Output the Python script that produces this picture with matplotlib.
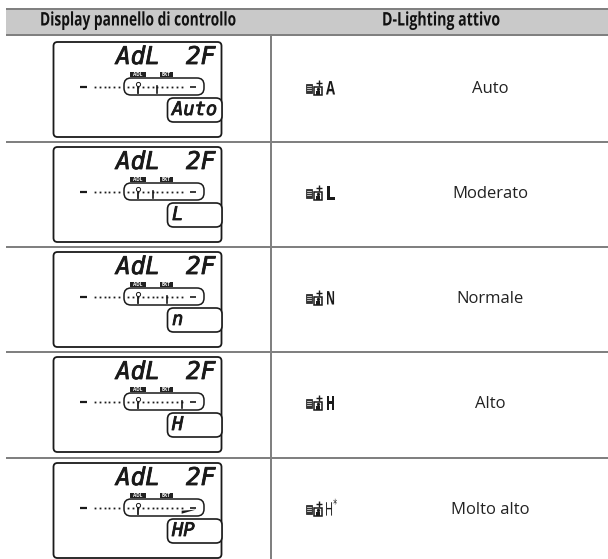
import matplotlib
matplotlib.use("Agg")
import matplotlib.pyplot as plt
from matplotlib.patches import FancyBboxPatch, Rectangle, Polygon
from matplotlib.patheffects import AbstractPathEffect, withStroke
from matplotlib.transforms import Affine2D

headers = ["Display pannello di controllo", "D-Lighting attivo"]
lcd_top = ["AdL", "2F"]
lcd_bottom = ["Auto", "L", "n", "H", "HP"]
modes = ["A", "L", "N", "H", "H$^{*}$"]
names = ["Auto", "Moderato", "Normale", "Alto", "Molto alto"]
indicator_step = [6, 5, 8, 11, 11]   # scale position of the bracketing mark
scale_outer = [0, 1, 2, 3, 4, 5]
scale_inner = list(range(12))

W, H = 608, 559
fig = plt.figure(figsize=(W / 100, H / 100), dpi=100)
ax = fig.add_axes([0, 0, 1, 1])
ax.set_xlim(0, W)
ax.set_ylim(H, 0)
ax.axis("off")
PX = 72 / 100
renderer = fig.canvas.get_renderer()

SANS = "Open Sans"
MONO = "DejaVu Sans Mono"
INK = "#1a1a1a"
RULE = "#808080"


class Squeeze(AbstractPathEffect):
    """Narrow a text horizontally about a pixel column (condensed look)."""

    def __init__(self, cx, sx):
        super().__init__()
        self.cx, self.sx = cx, sx

    def draw_path(self, renderer, gc, tpath, affine, rgbFace=None):
        squeeze = Affine2D().translate(-self.cx, 0).scale(self.sx, 1).translate(self.cx, 0)
        renderer.draw_path(gc, tpath, affine + squeeze, rgbFace)


def narrow(x, y, s, width, **kw):
    t = ax.text(x, y, s, va="center", **kw)
    w = t.get_window_extent(renderer).width
    cx = ax.transData.transform((x, y))[0]
    t.set_path_effects([Squeeze(cx, width / w)])
    return t


def lcd_text(x, y, s, size):
    t = ax.text(x, y, s, family=MONO, style="oblique", fontsize=size, ha="left", va="center", color=INK)
    t.set_path_effects([withStroke(linewidth=0.6, foreground=INK)])
    return t


# header band
ax.add_patch(Rectangle((6, 9), W - 6, 26, fc="#c9c9c9", ec="none"))
for y in (9, 35):
    ax.plot([6, W], [y, y], color=RULE, lw=2 * PX, solid_capstyle="butt")
ax.plot([271, 271], [35, H], color=RULE, lw=2 * PX, solid_capstyle="butt")
narrow(138.5, 20.5, headers[0], 197, family=SANS, weight="bold", fontsize=13.5, ha="center", color="#111111")
narrow(441, 20.5, headers[1], 118, family=SANS, weight="bold", fontsize=13.5, ha="center", color="#111111")

rule_y = [142, 247, 352, 458]
for y in rule_y:
    ax.plot([6, W], [y, y], color=RULE, lw=2 * PX, solid_capstyle="butt")

tops = [42, 147, 252, 357, 463]


def rbox(x0, y0, x1, y1, r, lw=1.1):
    ax.add_patch(FancyBboxPatch((x0 + r, y0 + r), x1 - x0 - 2 * r, y1 - y0 - 2 * r,
                                boxstyle=f"round,pad={r},rounding_size={r}",
                                fc="white", ec=INK, lw=lw))


def icon(x, yc):
    ax.add_patch(Rectangle((x, yc - 5), 6, 9, fc="#333333", ec=INK, lw=0.5))
    for dy in (-3, -1, 1):
        ax.plot([x + 1, x + 5], [yc + dy, yc + dy], color="white", lw=0.5)
    ax.add_patch(Rectangle((x + 7.5, yc - 2), 8, 8, fc="white", ec=INK, lw=1.1))
    ax.add_patch(Rectangle((x + 9.5, yc + 2), 4, 3.5, fc=INK, ec="none"))
    ax.plot([x + 11.5], [yc], marker="o", ms=2.4, mew=0, color=INK)
    ax.plot([x + 13], [yc - 6.5], marker="+", ms=4.5, mew=1, color=INK)


STEP = 4.85
for i, top in enumerate(tops):
    rbox(53.5, top, 221.5, top + 95, 4, lw=1.3)
    lcd_text(116, top + 15, lcd_top[0], 17.5)
    lcd_text(186, top + 15, lcd_top[1], 17.5)
    for tx, tw, lab in ((130, 16, "ADL"), (160, 13, "BKT")):
        ax.add_patch(Rectangle((tx, top + 29.5), tw, 5.5, fc="#222222", ec="none"))
        ax.text(tx + tw / 2, top + 32.2, lab, fontsize=3.4, color="white", ha="center", va="center",
                family=SANS, weight="bold")
    ym = top + 44.7
    ax.plot([80, 87], [ym, ym], color=INK, lw=1.6, solid_capstyle="butt")
    rbox(124, top + 36, 204, top + 53, 7, lw=1.1)
    ax.plot([190, 196], [ym, ym], color=INK, lw=1.2, solid_capstyle="butt")
    for s in scale_outer:
        ax.plot([95 + 4.8 * s], [ym], marker="s", ms=1.3, mew=0, color=INK)
    for s in scale_inner:
        ax.plot([128.3 + STEP * s], [ym], marker="s", ms=1.3, mew=0, color=INK)
    ax.plot([138, 138], [ym - 1, ym + 6], color=INK, lw=1.3)
    ax.plot([138], [ym - 3], marker="o", ms=3, mfc="white", mec=INK, mew=0.7)
    xm = 128.3 + STEP * indicator_step[i]
    if i == 4:
        ax.add_patch(Polygon([(xm, ym + 6), (xm, ym + 3), (xm + 14, ym + 2)], closed=True, fc=INK, ec="none"))
    else:
        ax.plot([xm, xm], [ym - 1, ym + 6], color=INK, lw=1.2)
    rbox(167.5, top + 56, 222, top + 80, 6, lw=1.2)
    lcd_text(172, top + 67.5, lcd_bottom[i], 13.5)
    yc = top + 47
    icon(306, yc)
    lw_txt = 9 if i < 4 else 13
    narrow(326 if i < 4 else 325, yc + 0.5 if i < 4 else yc - 1, modes[i], lw_txt, family=SANS,
           weight="bold" if i < 4 else "normal", fontsize=13.5, ha="left", color=INK)
    ax.text(490, yc, names[i], family=SANS, fontsize=12, ha="center", va="center", color="#222222")

fig.savefig("out.png", dpi=100)
